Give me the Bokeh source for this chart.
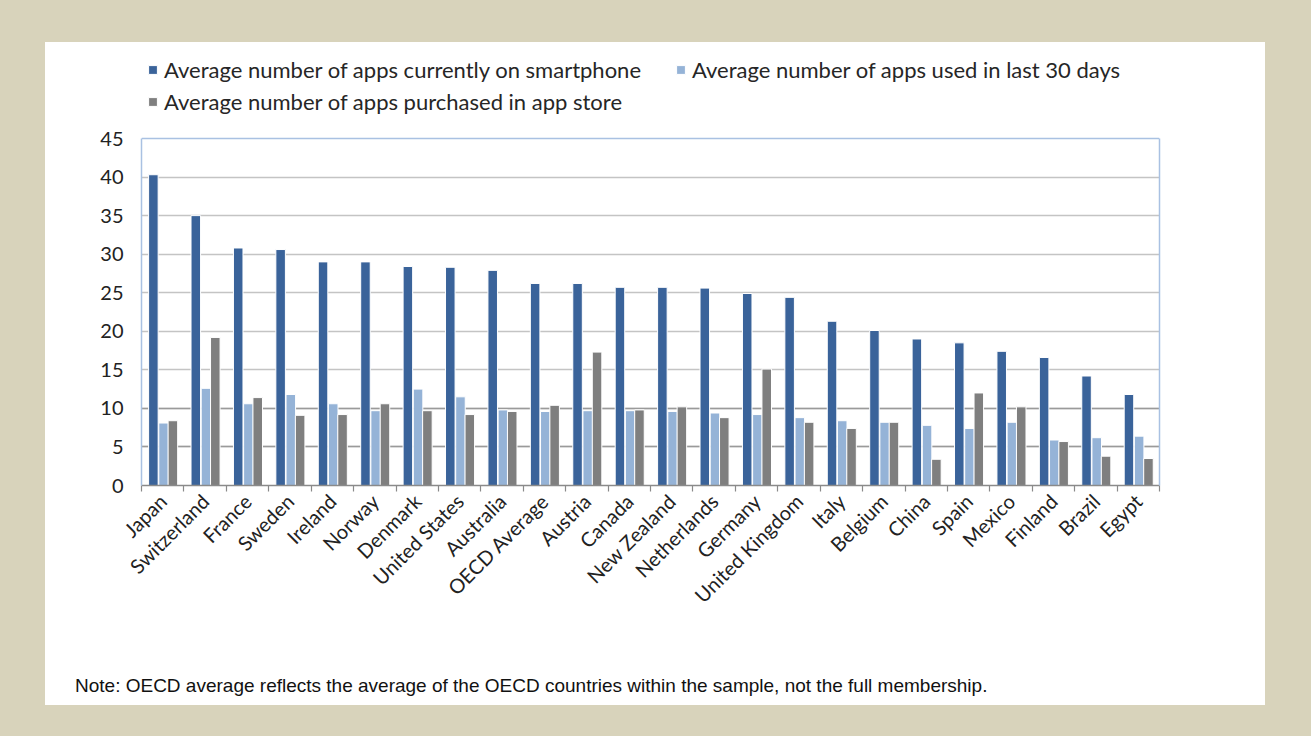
from bokeh.plotting import figure
from bokeh.models import (Range1d, FixedTicker, Legend, LegendItem, Grid, Div,
                          GlobalInlineStyleSheet, ColumnDataSource, LinearAxis)
from bokeh.layouts import column
from bokeh.transform import dodge
from bokeh.embed import file_html
from bokeh.resources import INLINE

# ---------------- data ----------------
countries = ["Japan", "Switzerland", "France", "Sweden", "Ireland", "Norway",
             "Denmark", "United States", "Australia", "OECD Average", "Austria",
             "Canada", "New Zealand", "Netherlands", "Germany", "United Kingdom",
             "Italy", "Belgium", "China", "Spain", "Mexico", "Finland", "Brazil",
             "Egypt"]
apps_on_phone = [40.3, 35.0, 30.8, 30.6, 29.0, 29.0, 28.4, 28.3, 27.9, 26.2, 26.2,
                 25.7, 25.7, 25.6, 24.9, 24.4, 21.3, 20.1, 19.0, 18.5, 17.4, 16.6,
                 14.2, 11.8]
apps_used_30d = [8.1, 12.6, 10.6, 11.8, 10.6, 9.7, 12.5, 11.5, 9.8, 9.6, 9.7,
                 9.7, 9.6, 9.4, 9.2, 8.8, 8.4, 8.2, 7.8, 7.4, 8.2, 5.9, 6.2, 6.4]
apps_purchased = [8.4, 19.2, 11.4, 9.1, 9.2, 10.6, 9.7, 9.2, 9.6, 10.4, 17.3,
                  9.8, 10.2, 8.8, 15.1, 8.2, 7.4, 8.2, 3.4, 12.0, 10.2, 5.7,
                  3.8, 3.5]
series_labels = ["Average number of apps currently on smartphone",
                 "Average number of apps used in last 30 days",
                 "Average number of apps purchased in app store"]
y_ticks = [0, 5, 10, 15, 20, 25, 30, 35, 40, 45]
title_text = "Figure 4. Average number of apps owned by smartphone (2013)"
note_text = ("Note: OECD average reflects the average of the OECD countries "
             "within the sample, not the full membership.")

# ---------------- style ----------------
BEIGE = "#D8D3BB"
C_DARK = "#3A639A"
C_LIGHT = "#95B3D7"
C_GRAY = "#7F7F7F"
C_BORDER = "#A9C1E2"
FONT = "Lato"

n = len(countries)
y_max = y_ticks[-1]
centers = [i + 0.5 for i in range(n)]
src = ColumnDataSource(dict(x=centers, country=countries, on=apps_on_phone,
                            used=apps_used_30d, bought=apps_purchased))

# ---- clipped title strip (only the lowest part shows, as in the source) ----
title_div = Div(
    text=('<div style="position:relative;height:6px;width:1311px;overflow:hidden;">'
          '<div style="position:absolute;top:-24px;left:152px;white-space:nowrap;'
          'font-family:\'Liberation Sans\';font-weight:bold;font-size:30px;'
          'line-height:30px;color:#000;">' + title_text + '</div></div>'),
    width=1311, height=6, margin=0, styles={"overflow": "hidden"})

# ---- main chart; frame extends above the value axis to host the legend ----
p = figure(width=1220, height=628, output_backend="svg", toolbar_location=None,
           x_range=Range1d(0, n), y_range=Range1d(0, y_max * 441.0 / 347.0),
           x_axis_location="below")
p.min_border_left = 96
p.min_border_right = 106
p.min_border_top = 2
p.min_border_bottom = 185
p.border_fill_color = "white"
p.background_fill_color = "white"
p.outline_line_color = None

# grid
p.xgrid.grid_line_color = None
p.ygrid.ticker = FixedTicker(ticks=y_ticks[:-1])
p.ygrid.grid_line_color = "#C4C4C4"
p.ygrid.grid_line_width = 1.6
p.add_layout(Grid(dimension=1, ticker=FixedTicker(ticks=[5, 10]),
                  grid_line_color="#9A9A9A", grid_line_width=1.6))
p.add_layout(Grid(dimension=1, ticker=FixedTicker(ticks=[y_max]),
                  grid_line_color=C_BORDER, grid_line_width=1.5))

bw = 0.225
r1 = p.vbar(x=dodge("x", -0.22, range=p.x_range), top="on", width=bw, source=src,
            fill_color=C_DARK, line_color="white", line_width=1.0)
r2 = p.vbar(x=dodge("x", 0.02, range=p.x_range), top="used", width=bw, source=src,
            fill_color=C_LIGHT, line_color="white", line_width=1.0)
r3 = p.vbar(x=dodge("x", 0.24, range=p.x_range), top="bought", width=bw, source=src,
            fill_color=C_GRAY, line_color="white", line_width=1.0)

# y axis (left border of plot area)
ya = p.yaxis[0]
ya.ticker = FixedTicker(ticks=y_ticks)
ya.bounds = (0, y_max)
ya.axis_line_color = C_BORDER
ya.axis_line_width = 1.5
ya.major_tick_line_color = None
ya.minor_tick_line_color = None
ya.major_tick_out = 0
ya.major_label_standoff = 18
ya.major_label_text_font = FONT
ya.major_label_text_font_size = "20px"
ya.major_label_text_color = "#222222"

# right border of plot area
ra = LinearAxis(ticker=FixedTicker(ticks=[]), bounds=(0, y_max),
                axis_line_color=C_BORDER, axis_line_width=1.5,
                major_tick_line_color=None, minor_tick_line_color=None,
                major_label_text_font_size="0px")
p.add_layout(ra, "right")

# x axis: labels at centres, tick marks at boundaries
xa = p.xaxis[0]
xa.ticker = FixedTicker(ticks=centers, minor_ticks=list(range(n + 1)))
xa.major_label_overrides = {c: name for c, name in zip(centers, countries)}
xa.major_tick_line_color = None
xa.major_tick_out = 0
xa.major_tick_in = 0
xa.minor_tick_line_color = "#8A8A8A"
xa.minor_tick_out = 6
xa.minor_tick_in = 0
xa.minor_tick_line_width = 1.2
xa.axis_line_color = "#8A8A8A"
xa.axis_line_width = 1.6
xa.major_label_orientation = 0.785398
xa.major_label_standoff = 6
xa.major_label_text_font = FONT
xa.major_label_text_font_size = "20px"
xa.major_label_text_color = "#222222"

legend = Legend(items=[LegendItem(label=series_labels[0], renderers=[r1]),
                       LegendItem(label=series_labels[1], renderers=[r2]),
                       LegendItem(label=series_labels[2], renderers=[r3])],
                location=(6, 370), orientation="horizontal", ncols=2,
                padding=0, margin=0, border_line_color=None,
                background_fill_alpha=0, glyph_width=11, glyph_height=11,
                label_standoff=6, label_width=506, label_height=22, spacing=5,
                label_text_font=FONT, label_text_font_size="22px",
                label_text_color="#262626")
p.add_layout(legend)

note_div = Div(
    text=('<div style="font-family:\'Liberation Sans\';font-size:19px;'
          'color:#111;white-space:nowrap;padding-left:30px;padding-top:2px;">'
          + note_text + '</div>'),
    width=1220, height=35, margin=0, styles={"background-color": "white"})

panel = column(p, note_div, width=1220, height=663, margin=(36, 46, 31, 45),
               styles={"background-color": "white"})

root = column(title_div, panel, width=1311, height=736,
              styles={"background-color": BEIGE})
root.stylesheets = [GlobalInlineStyleSheet(
    css="html, body { margin: 0 !important; padding: 0; background: %s; overflow: hidden; }" % BEIGE)]

open("out.html", "w").write(file_html(root, INLINE))
